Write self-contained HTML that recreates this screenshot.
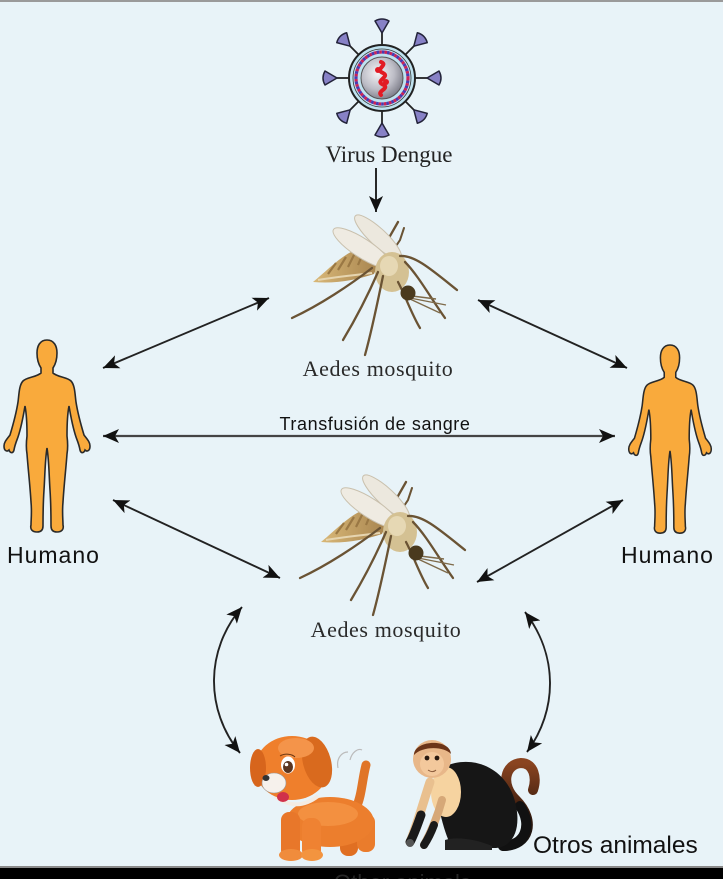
<!DOCTYPE html>
<html><head><meta charset="utf-8">
<style>
html,body{margin:0;padding:0;background:#e8f3f8;}
body{width:723px;height:879px;overflow:hidden;}
svg{display:block;}
</style></head>
<body>
<svg width="723" height="879" viewBox="0 0 723 879" xmlns="http://www.w3.org/2000/svg">
<defs>
  <marker id="ah" markerUnits="userSpaceOnUse" markerWidth="17" markerHeight="14" refX="16" refY="7" orient="auto-start-reverse">
    <path d="M0,0 L16,7 L0,14 L4,7 Z" fill="#111"/>
  </marker>
  <radialGradient id="core" cx="40%" cy="38%" r="65%">
    <stop offset="0" stop-color="#f4f4f6"/>
    <stop offset="0.6" stop-color="#bdbdc6"/>
    <stop offset="1" stop-color="#7e7e8a"/>
  </radialGradient>
  <linearGradient id="tailg" x1="0" y1="0" x2="0" y2="1">
    <stop offset="0" stop-color="#8a4420"/>
    <stop offset="0.6" stop-color="#3a1c0e"/>
    <stop offset="1" stop-color="#111"/>
  </linearGradient>
  <linearGradient id="abd" x1="0" y1="0" x2="1" y2="0">
    <stop offset="0" stop-color="#d9b878"/>
    <stop offset="1" stop-color="#a98650"/>
  </linearGradient>
  <g id="mosq">
    <!-- back legs up -->
    <path d="M386,256 L390,236 L398,222" fill="none" stroke="#6a5334" stroke-width="2.3" stroke-linecap="round"/>
    <path d="M392,252 L400,240 L404,228" fill="none" stroke="#6a5334" stroke-width="2" stroke-linecap="round"/>
    <!-- wings -->
    <ellipse cx="378" cy="237" rx="31" ry="8.5" transform="rotate(43 378 237)" fill="#ece8de" stroke="#c9c0ad" stroke-width="1"/>
    <!-- abdomen -->
    <path d="M313,282 C328,270 345,251 362,248 C374,249 380,262 374,274 C356,280 336,284 313,282 Z" fill="url(#abd)"/>
    <path d="M328,274 L336,263 M338,270 L346,257 M348,267 L355,253 M358,265 L364,251" stroke="#9a7844" stroke-width="2.2" fill="none"/>
    <path d="M318,280 C335,277 355,275 372,273" stroke="#e6d5b0" stroke-width="2" fill="none"/>
    <ellipse cx="362" cy="248" rx="34" ry="9.5" transform="rotate(33 362 248)" fill="#efebe2" stroke="#c9c0ad" stroke-width="1"/>
    <!-- thorax -->
    <ellipse cx="392" cy="272" rx="17" ry="20" fill="#d4c193"/>
    <ellipse cx="389" cy="266" rx="9" ry="10" fill="#e6d8b4"/>
    <!-- legs -->
    <g fill="none" stroke="#6a5334" stroke-width="2.3" stroke-linecap="round">
      <path d="M372,268 C350,285 320,305 292,318"/>
      <path d="M378,272 C368,295 355,320 343,340"/>
      <path d="M383,276 C378,300 372,330 365,355"/>
      <path d="M400,256 C415,255 432,270 457,290"/>
      <path d="M405,262 C418,275 432,300 445,318"/>
      <path d="M398,282 C405,295 412,315 420,328"/>
    </g>
    <g fill="none" stroke="#7e6a4a" stroke-width="1.4">
      <path d="M410,298 L446,305"/>
      <path d="M410,299 L440,313"/>
      <path d="M412,296 L436,299"/>
    </g>
    <!-- head -->
    <circle cx="408" cy="293" r="7.5" fill="#4a3a1e"/>
  </g>
  <path id="human" d="M0,0 C7,0 10,6 10,13 C10,20 8,25 6,28 L6,33 C10,37 20,37 24,41 C28,45 28,55 29,62 C31,75 34,85 37,95 C40,99 43,102 43,106 C43,111 40,112 38,110 C37,113 34,114 33,110 C32,104 30,100 29,97 C26,88 24,78 22,66 C20,76 20,86 20,96 C21,104 21,108 20,114 C19,128 17,145 16,162 C15,172 16,180 16,185 C17,189 15,192 10,192 C5,192 4,189 4,186 C4,175 4,165 3,150 C2,135 2,120 0,108 C-2,120 -2,135 -3,150 C-4,165 -4,175 -4,186 C-4,189 -5,192 -10,192 C-15,192 -17,189 -16,185 C-16,180 -15,172 -16,162 C-17,145 -19,128 -20,114 C-21,108 -21,104 -20,96 C-20,86 -20,76 -22,66 C-24,78 -26,88 -29,97 C-30,100 -32,104 -33,110 C-34,114 -37,113 -38,110 C-40,112 -43,111 -43,106 C-43,102 -40,99 -37,95 C-34,85 -31,75 -29,62 C-28,55 -28,45 -24,41 C-20,37 -10,37 -6,33 L-6,28 C-8,25 -10,20 -10,13 C-10,6 -7,0 0,0 Z" fill="#f9aa3c" stroke="#2a2a2a" stroke-width="1.6"/>
  <path id="knob" d="M0,-45 L-7,-57 Q0,-61 7,-57 Z"/>
</defs>

<!-- top border -->
<rect x="0" y="0" width="723" height="2" fill="#9a9a9a"/>

<!-- VIRUS -->
<g>
  <g stroke="#222" stroke-width="1.8">
    <line x1="382" y1="44" x2="382" y2="31"/>
    <line x1="382" y1="111" x2="382" y2="124"/>
    <line x1="349" y1="78" x2="336" y2="78"/>
    <line x1="415" y1="78" x2="428" y2="78"/>
    <line x1="358.7" y1="54.7" x2="349" y2="45"/>
    <line x1="405.3" y1="54.7" x2="415" y2="45"/>
    <line x1="358.7" y1="101.3" x2="349" y2="111"/>
    <line x1="405.3" y1="101.3" x2="415" y2="111"/>
  </g>
  <g fill="#8781c6" stroke="#23233a" stroke-width="1.5" stroke-linejoin="round">
    <use href="#knob" transform="translate(382,78)"/>
    <use href="#knob" transform="translate(382,78) rotate(45)"/>
    <use href="#knob" transform="translate(382,78) rotate(90)"/>
    <use href="#knob" transform="translate(382,78) rotate(135)"/>
    <use href="#knob" transform="translate(382,78) rotate(180)"/>
    <use href="#knob" transform="translate(382,78) rotate(225)"/>
    <use href="#knob" transform="translate(382,78) rotate(270)"/>
    <use href="#knob" transform="translate(382,78) rotate(315)"/>
  </g>
  <circle cx="382" cy="78" r="33" fill="#bfe2ef" stroke="#222" stroke-width="2"/>
  <circle cx="382" cy="78" r="29" fill="none" stroke="#333" stroke-width="0.8"/>
  <circle cx="382" cy="78" r="26" fill="none" stroke="#cc2255" stroke-width="3.2" stroke-dasharray="2.6 2.6"/>
  <circle cx="382" cy="78" r="26" fill="none" stroke="#4a3ab0" stroke-width="3.2" stroke-dasharray="2.6 2.6" stroke-dashoffset="2.6"/>
  <circle cx="382" cy="78" r="21" fill="url(#core)" stroke="#555" stroke-width="1"/>
  <path d="M381,62 C389,65 374,69 383,73 C391,77 373,81 384,85 C389,89 377,91 381,95" fill="none" stroke="#e21b24" stroke-width="4" stroke-linecap="round"/>
  <circle cx="378" cy="70" r="3" fill="#e21b24"/>
  <circle cx="386" cy="82" r="3" fill="#e21b24"/>
</g>
<text x="389" y="162" text-anchor="middle" font-family="'Liberation Serif', serif" font-size="23" fill="#222">Virus Dengue</text>
<line x1="376" y1="168" x2="376" y2="212" stroke="#111" stroke-width="1.8" marker-end="url(#ah)"/>

<!-- Mosquito 1 -->
<use href="#mosq"/>
<text x="378" y="376" text-anchor="middle" font-family="'Liberation Serif', serif" font-size="22" letter-spacing="0.6" fill="#2a2a2a">Aedes mosquito</text>

<!-- Mosquito 2 -->
<use href="#mosq" transform="translate(8,260)"/>
<text x="386" y="637" text-anchor="middle" font-family="'Liberation Serif', serif" font-size="22" letter-spacing="0.6" fill="#2a2a2a">Aedes mosquito</text>

<!-- Humans -->
<use href="#human" transform="translate(47,340)"/>
<use href="#human" transform="translate(670,345) scale(0.96,0.98)"/>
<text x="7" y="563" font-family="'Liberation Sans', sans-serif" font-size="23" letter-spacing="1" fill="#111">Humano</text>
<text x="621" y="563" font-family="'Liberation Sans', sans-serif" font-size="23" letter-spacing="1" fill="#111">Humano</text>

<!-- Arrows -->
<g stroke="#222" stroke-width="1.9" fill="none">
  <line x1="103" y1="368" x2="269" y2="298" marker-start="url(#ah)" marker-end="url(#ah)"/>
  <line x1="478" y1="300" x2="627" y2="368" marker-start="url(#ah)" marker-end="url(#ah)"/>
  <line x1="113" y1="500" x2="280" y2="578" marker-start="url(#ah)" marker-end="url(#ah)"/>
  <line x1="477" y1="582" x2="623" y2="500" marker-start="url(#ah)" marker-end="url(#ah)"/>
  <path d="M242,607 C205,650 205,710 240,753" marker-start="url(#ah)" marker-end="url(#ah)"/>
  <path d="M525,612 C558,655 558,710 527,752" marker-start="url(#ah)" marker-end="url(#ah)"/>
</g>
<line x1="103" y1="436" x2="615" y2="436" stroke="#444" stroke-width="2.3" marker-start="url(#ah)" marker-end="url(#ah)"/>
<text x="375" y="430" text-anchor="middle" font-family="'Liberation Sans', sans-serif" font-size="18" letter-spacing="0.6" fill="#111">Transfusión de sangre</text>

<!-- DOG -->
<g>
  <path d="M338,768 C336,758 342,752 348,752 M350,760 C352,752 358,748 362,750" fill="none" stroke="#bbb" stroke-width="1.2"/>
  <path d="M356,808 C362,795 362,780 366,765" fill="none" stroke="#e07528" stroke-width="9" stroke-linecap="round"/>
  <rect x="340" y="818" width="18" height="38" rx="8" fill="#e06f22"/>
  <rect x="357" y="814" width="18" height="38" rx="8" fill="#ea7c2c"/>
  <ellipse cx="330" cy="822" rx="44" ry="25" fill="#ec7e2d"/>
  <ellipse cx="328" cy="814" rx="30" ry="12" fill="#f39040"/>
  <rect x="281" y="812" width="19" height="46" rx="8" fill="#e8772a"/>
  <rect x="302" y="818" width="19" height="40" rx="8" fill="#ef8232"/>
  <ellipse cx="291" cy="855" rx="12" ry="6" fill="#f08c3c"/>
  <ellipse cx="312" cy="855" rx="11" ry="6" fill="#f3943f"/>
  <path d="M275,796 C290,808 305,806 318,796" fill="none" stroke="#f3ece4" stroke-width="4"/>
  <ellipse cx="292" cy="768" rx="37" ry="32" fill="#ef7f2c"/>
  <ellipse cx="258" cy="768" rx="8" ry="19" fill="#d7651c"/>
  <ellipse cx="317" cy="762" rx="14" ry="26" transform="rotate(-15 317 762)" fill="#d96a1e"/>
  <ellipse cx="296" cy="748" rx="18" ry="10" fill="#f4944a"/>
  <ellipse cx="274" cy="783" rx="12" ry="10" fill="#f6f1ec" stroke="#999" stroke-width="0.6"/>
  <ellipse cx="266" cy="778" rx="3.5" ry="3" fill="#333"/>
  <ellipse cx="288" cy="765" rx="7" ry="8.5" fill="#fff"/>
  <ellipse cx="288" cy="767" rx="5" ry="6" fill="#5a3520"/>
  <circle cx="286.5" cy="764.5" r="1.8" fill="#fff"/>
  <path d="M280,756 C285,753 292,754 295,757" fill="none" stroke="#6a3510" stroke-width="1"/>
  <ellipse cx="283" cy="797" rx="6" ry="5" fill="#d0304a"/>
</g>

<!-- MONKEY -->
<g>
  <path d="M503,846 C530,846 536,820 516,800 C500,785 505,764 521,763 C534,763 537,778 533,790" fill="none" stroke="url(#tailg)" stroke-width="10" stroke-linecap="round"/>
  <path d="M503,846 C525,846 533,825 520,806" fill="none" stroke="#111" stroke-width="10" stroke-linecap="round"/>
  <path d="M436,772 C462,752 502,762 514,798 C522,824 516,846 496,848 L452,848 C442,828 436,800 436,772 Z" fill="#161616"/>
  <path d="M445,840 C458,836 478,840 492,846 L492,850 L445,850 Z" fill="#222"/>
  <ellipse cx="446" cy="792" rx="15" ry="25" fill="#f6d3a0"/>
  <path d="M430,782 C424,800 418,822 410,842" fill="none" stroke="#e9c08f" stroke-width="9" stroke-linecap="round"/>
  <path d="M421,815 C417,826 414,835 410,842" fill="none" stroke="#1a1a1a" stroke-width="9" stroke-linecap="round"/>
  <path d="M442,800 C438,815 432,830 424,845" fill="none" stroke="#d6a878" stroke-width="8" stroke-linecap="round"/>
  <path d="M434,825 C431,833 428,839 424,845" fill="none" stroke="#1a1a1a" stroke-width="8" stroke-linecap="round"/>
  <circle cx="410" cy="843" r="4" fill="#555"/>
  <circle cx="432" cy="759" r="19" fill="#e8b789"/>
  <path d="M414,755 C414,740 450,738 451,754 C444,746 422,746 414,755 Z" fill="#6b3418"/>
  <ellipse cx="432" cy="764" rx="12" ry="12" fill="#f3c89c"/>
  <circle cx="427" cy="758" r="2.4" fill="#2a1a10"/>
  <circle cx="437" cy="758" r="2.4" fill="#2a1a10"/>
  <path d="M428,770 C431,772 434,772 436,770" fill="none" stroke="#8a5a3a" stroke-width="1"/>
</g>
<text x="533" y="853" font-family="'Liberation Sans', sans-serif" font-size="24.5" fill="#111">Otros animales</text>

<!-- bottom bar -->
<rect x="0" y="866" width="723" height="2" fill="#8a8a8a"/>
<rect x="0" y="868" width="723" height="11" fill="#000"/>
<text x="334" y="890" font-family="'Liberation Sans', sans-serif" font-size="22" fill="#262626">Other animals</text>
</svg>
</body></html>
